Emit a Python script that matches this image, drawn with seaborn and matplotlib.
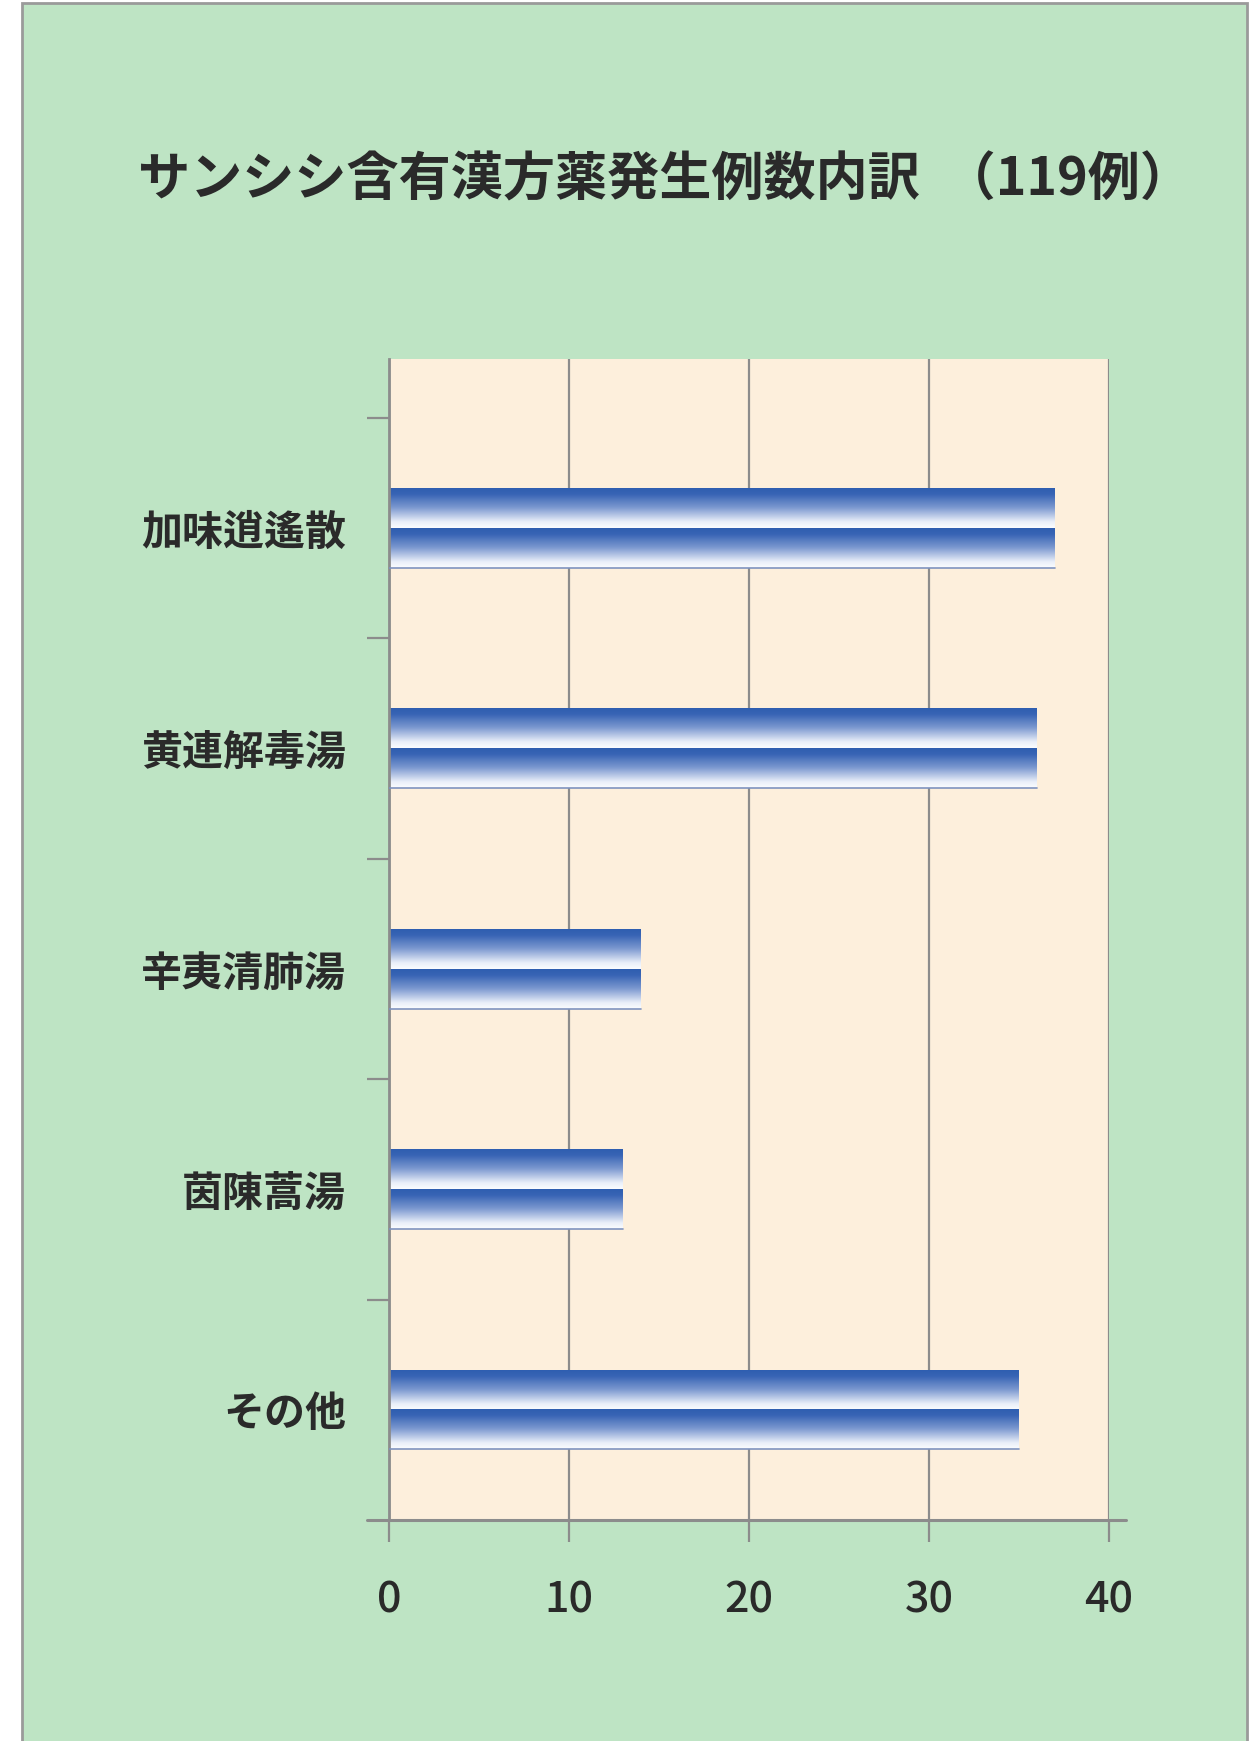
import numpy as np
import pandas as pd
import matplotlib
matplotlib.use("Agg")
import matplotlib.pyplot as plt
from matplotlib.colors import LinearSegmentedColormap
from matplotlib.patches import Rectangle
import seaborn as sns

# data
categories = ["加味逍遙散", "黄連解毒湯", "辛夷清肺湯", "茵陳蒿湯", "その他"]
counts = [37, 36, 14, 13, 35]
xticks = [0, 10, 20, 30, 40]
title = "サンシシ含有漢方薬発生例数内訳  （119例）"

sns.set_style("white")
plt.rcParams["font.family"] = ["Noto Sans CJK JP", "DejaVu Sans"]

GREEN = "#bee4c4"
CREAM = "#fdefdc"
GRAY = "#8c8c8c"
TEXT = "#2a2a2a"

df = pd.DataFrame({"name": categories, "count": counts})

fig = plt.figure(figsize=(12.6, 17.41), dpi=100)
fig.patch.set_facecolor("white")
fig.patches.append(Rectangle((22 / 1260, -0.05), (1247 - 22) / 1260, 1.05 - 3 / 1741,
                             transform=fig.transFigure, facecolor=GREEN,
                             edgecolor="#9a9a9a", lw=2, zorder=-10))

ax = fig.add_axes([389 / 1260, 1 - 1520 / 1741, (1109 - 389) / 1260, (1520 - 359) / 1741])
ax.set_facecolor(CREAM)

sns.barplot(data=df, x="count", y="name", orient="h", width=0.36, ax=ax,
            color="#3461b2", saturation=1)

# blue->white gradient, two bands per bar
cmap = LinearSegmentedColormap.from_list(
    "band", [(0, "#2f5eb0"), (0.15, "#3864b5"), (0.5, "#7f9bd1"),
             (0.85, "#eaeff9"), (1.0, "#fbfcff")])
grad = np.linspace(0, 1, 64).reshape(-1, 1)
for p in ax.patches:
    x0, y0, w, h = p.get_x(), p.get_y(), p.get_width(), p.get_height()
    for k in range(2):
        top = y0 + k * h / 2
        ax.imshow(grad, cmap=cmap, aspect="auto", origin="upper",
                  extent=(x0, x0 + w, top + h / 2, top), zorder=2,
                  interpolation="bilinear")
    p.set_facecolor("none")
    p.set_edgecolor("none")
    ax.plot([x0, x0 + w], [y0 + h, y0 + h], color="#7f93bf", lw=1.2, zorder=3)

ax.set_xlim(0, 40)
ax.set_ylim(4.5, -0.767)
ax.set_xticks(xticks)
ax.set_xticklabels([str(v) for v in xticks])
ax.set_yticks(range(len(categories)))
ax.set_yticks([i - 0.5 for i in range(len(categories))], minor=True)
ax.set_xlabel("")
ax.set_ylabel("")

ax.grid(axis="x", color=GRAY, lw=1.6)
ax.set_axisbelow(True)
for s in ["top", "right", "bottom"]:
    ax.spines[s].set_visible(False)
ax.spines["left"].set_color(GRAY)
ax.spines["left"].set_linewidth(2)

# x axis line sticking out a bit past the plot area
ax.plot([-0.03, 1.023], [0, 0], transform=ax.transAxes, clip_on=False,
        color=GRAY, lw=2.2, zorder=5)

ax.tick_params(axis="x", bottom=True, length=16, width=1.6, color=GRAY, pad=26,
               labelsize=31, labelcolor=TEXT)
ax.tick_params(axis="y", which="major", left=False, length=0, pad=31, labelsize=29.5,
               labelcolor=TEXT)
ax.tick_params(axis="y", which="minor", left=True, length=16, width=1.6, color=GRAY)
for lab in ax.get_yticklabels():
    lab.set_fontweight("bold")
for lab in ax.get_xticklabels():
    lab.set_fontweight("medium")

fig.text(0.528, 1 - 180 / 1741, title, ha="center", va="center",
         fontsize=37.5, fontweight="bold", color=TEXT)

fig.savefig("out.png", dpi=100, facecolor=fig.get_facecolor())
